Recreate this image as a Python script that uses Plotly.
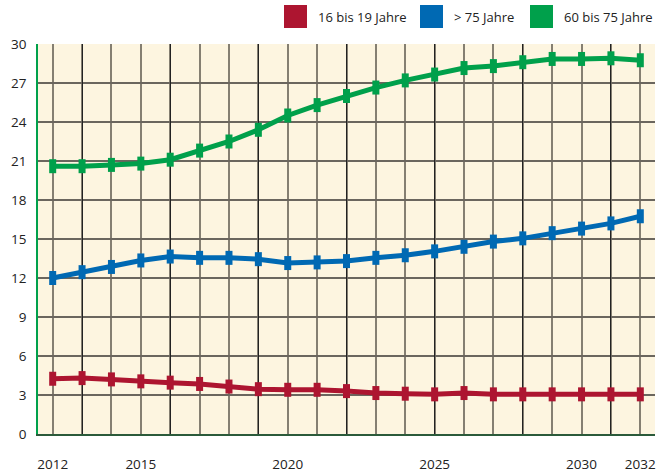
import plotly.graph_objects as go

years = list(range(2012, 2033))
age_16_19 = [4.25, 4.3, 4.2, 4.05, 3.95, 3.85, 3.65, 3.45, 3.4, 3.4, 3.3, 3.15, 3.1, 3.05, 3.15, 3.05, 3.05, 3.05, 3.05, 3.05, 3.05]
age_75_plus = [12.0, 12.45, 12.85, 13.35, 13.65, 13.55, 13.55, 13.45, 13.15, 13.2, 13.3, 13.55, 13.75, 14.05, 14.4, 14.8, 15.05, 15.45, 15.8, 16.2, 16.75]
age_60_75 = [20.6, 20.6, 20.7, 20.8, 21.1, 21.8, 22.5, 23.4, 24.5, 25.3, 26.0, 26.65, 27.2, 27.65, 28.15, 28.3, 28.6, 28.85, 28.85, 28.9, 28.75]
series_names = ["16 bis 19 Jahre", "> 75 Jahre", "60 bis 75 Jahre"]
series_colors = ["#ad1530", "#0069b3", "#00a04b"]
x_labels = {2012: "2012", 2015: "2015", 2020: "2020", 2025: "2025", 2030: "2030", 2032: "2032"}
y_ticks = [0, 3, 6, 9, 12, 15, 18, 21, 24, 27, 30]
dark_grid_years = list(range(2013, 2033, 3))

W, H = 671, 475
ML, MR, MT, MB = 38, 16, 44, 41
PW, PH = W - ML - MR, H - MT - MB

fig = go.Figure()

def add_series(y, name, color, xaxis="x"):
    fig.add_trace(go.Scatter(
        x=years, y=y, name=name, mode="lines+markers", showlegend=False,
        xaxis=xaxis,
        line=dict(color=color, width=5),
        marker=dict(symbol="line-ns", size=10, color=color,
                    line=dict(color=color, width=7)),
    ))

add_series(age_60_75, series_names[2], series_colors[2])
add_series(age_75_plus, series_names[1], series_colors[1])
add_series(age_16_19, series_names[0], series_colors[0], xaxis="x2")

font_family = "Open Sans, Noto Sans, DejaVu Sans, sans-serif"

def px_to_paper_x(px):
    return (px - ML) / PW

def py_to_paper_y(py):
    return (H - MB - py) / PH

legend_x = [284, 420, 530]
shapes = []
annotations = []
for name, color, lx in zip(series_names, series_colors, legend_x):
    shapes.append(dict(type="rect", xref="paper", yref="paper",
                       x0=px_to_paper_x(lx), x1=px_to_paper_x(lx + 23),
                       y0=py_to_paper_y(28), y1=py_to_paper_y(5),
                       fillcolor=color, line=dict(width=0), layer="above"))
    annotations.append(dict(xref="paper", yref="paper",
                            x=px_to_paper_x(lx + 32), y=py_to_paper_y(16.5),
                            text=name, showarrow=False, xanchor="left", yanchor="middle",
                            font=dict(size=13, color="#222222", family=font_family)))

fig.update_layout(
    width=W, height=H,
    margin=dict(l=ML, r=MR, t=MT, b=MB, autoexpand=False),
    paper_bgcolor="white",
    plot_bgcolor="#fdf5e0",
    showlegend=False,
    shapes=shapes,
    annotations=annotations,
    font=dict(family=font_family, size=13, color="#222222"),
    xaxis=dict(
        range=[2011.5, 2032.5],
        tickmode="array",
        tickvals=years,
        ticktext=[x_labels.get(yr, "") for yr in years],
        showgrid=True, gridcolor="#857f72", gridwidth=1.5,
        zeroline=False, ticks="", ticklabelstandoff=17, automargin=False,
        showline=True, linecolor="#2b5a3a", linewidth=1.5,
        tickfont=dict(size=13.5, color="#222222"),
    ),
    xaxis2=dict(
        range=[2011.5, 2032.5], overlaying="x",
        tickmode="array", tickvals=dark_grid_years,
        showticklabels=False, showgrid=True, gridcolor="#222222", gridwidth=1.2,
        zeroline=False, ticks="", automargin=False,
    ),
    yaxis=dict(
        range=[0, 30],
        tickmode="array", tickvals=y_ticks,
        showgrid=True, gridcolor="#6b665e", gridwidth=1.5,
        zeroline=False, ticks="", ticklabelstandoff=7, automargin=False,
        showline=True, linecolor="#00a04b", linewidth=1.5,
        tickfont=dict(size=13.5, color="#222222"),
    ),
)

fig.write_html(
    "out.html",
    config={"displayModeBar": False},
    post_script="document.body.style.margin='0';document.body.style.overflow='hidden';",
)
